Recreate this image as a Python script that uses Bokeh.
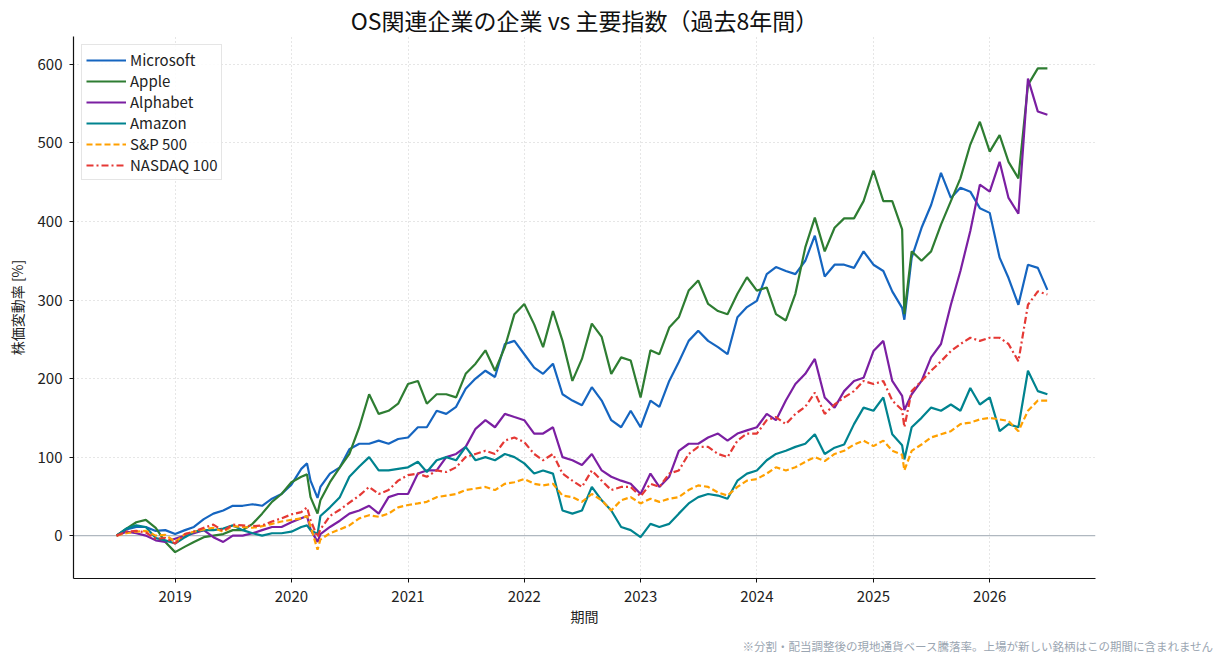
import pandas as pd
from bokeh.plotting import figure
from bokeh.models import Range1d, FixedTicker, DatetimeTickFormatter, Span, Title
from bokeh.embed import file_html
from bokeh.resources import INLINE

FONT = "Noto Sans CJK JP"

# ---- data (percent change since start) ----
# monthly points (1st of each month, 2018-07 .. 2026-07) plus three extra days
base_months = pd.date_range("2018-07-01", "2026-07-01", freq="MS")
extra_days = pd.to_datetime(["2020-02-19", "2020-03-23", "2025-04-08"])
dates = base_months.append(extra_days).sort_values()

microsoft = [
    0, 8, 11, 11, 6, 7,
    2, 7, 11, 21, 28, 32, 38, 38, 40, 38, 47, 53,
    65, 85, 92, 70, 48, 62, 79, 87, 110, 117, 117, 121, 117, 123,
    125, 138, 138, 159, 155, 164, 187, 200, 210, 202, 244, 248,
    231, 214, 206, 219, 180, 172, 166, 189, 172, 147, 138, 159,
    138, 172, 164, 197, 221, 248, 261, 248, 240, 231, 278, 291,
    299, 333, 342, 337, 333, 350, 382, 330, 345, 345, 341, 362,
    345, 337, 311, 290, 275, 354, 392, 421, 462, 430, 443, 438, 417,
    411, 354, 328, 294, 345, 341, 313,
]
apple = [
    0, 9, 17, 20, 10, -8,
    -21, -14, -8, -2, 0, 2, 7, 7, 15, 28, 43, 53,
    68, 75, 78, 49, 28, 45, 68, 87, 104, 138, 180, 155, 159, 168,
    193, 197, 168, 180, 180, 176, 206, 219, 236, 210, 240, 282,
    295, 269, 240, 286, 248, 197, 225, 270, 253, 206, 227, 223,
    176, 236, 231, 265, 278, 312, 325, 295, 286, 282, 308, 329,
    312, 316, 282, 274, 308, 367, 405, 362, 392, 404, 404, 426,
    465, 426, 426, 390, 282, 362, 350, 362, 396, 426, 455, 498, 527,
    489, 510, 476, 455, 574, 595, 595,
]
alphabet = [
    0, 5, 3, 0, -6, -8,
    -4, 0, 3, 7, -2, -8, 0, 0, 3, 7, 11, 11,
    17, 22, 25, 8, -8, 2, 11, 19, 28, 32, 38, 28, 49, 53,
    53, 79, 83, 83, 100, 104, 113, 136, 147, 138, 155, 151,
    147, 130, 130, 138, 100, 96, 90, 104, 83, 75, 70, 66,
    53, 79, 62, 75, 108, 117, 117, 125, 130, 121, 130, 134,
    138, 155, 147, 172, 193, 206, 225, 176, 163, 184, 197, 201,
    235, 248, 197, 178, 160, 180, 197, 227, 244, 294, 337, 388, 447,
    438, 476, 430, 410, 582, 540, 536,
]
amazon = [
    0, 9, 13, 11, -3, -6,
    -10, -2, 5, 7, 7, 9, 13, 7, 3, 0, 3, 3,
    5, 11, 13, 7, 2, 25, 36, 49, 75, 88, 100, 83, 83, 85,
    87, 94, 81, 96, 100, 96, 113, 96, 100, 96, 104, 100,
    92, 79, 83, 79, 32, 28, 32, 62, 45, 32, 11, 7,
    -2, 15, 11, 15, 28, 41, 49, 53, 51, 47, 70, 79,
    83, 96, 104, 108, 113, 117, 129, 104, 112, 116, 142, 163,
    159, 176, 129, 115, 97, 138, 150, 163, 159, 167, 159, 188, 167,
    176, 133, 142, 138, 210, 184, 180,
]
sp500 = [
    0, 3, 5, 6, 0, 1,
    -8, 2, 5, 8, 10, 5, 12, 11, 10, 12, 15, 18,
    20, 22, 25, 12, -18, -5, 3, 8, 13, 22, 26, 24, 28, 36,
    39, 41, 43, 49, 51, 53, 58, 60, 62, 58, 66, 68,
    72, 66, 64, 66, 51, 49, 43, 53, 45, 32, 45, 49,
    41, 47, 43, 47, 49, 58, 64, 62, 55, 51, 62, 70,
    72, 79, 87, 83, 87, 94, 100, 95, 104, 108, 116, 121,
    114, 121, 108, 103, 83, 108, 116, 125, 129, 133, 142, 144, 148,
    150, 148, 146, 133, 159, 172, 172,
]
nasdaq100 = [
    0, 5, 6, 4, -4, -3,
    -10, 2, 5, 10, 14, 6, 14, 13, 12, 13, 18, 22,
    27, 30, 36, 20, -2, 8, 25, 33, 42, 51, 62, 53, 58, 70,
    77, 79, 75, 83, 81, 87, 100, 104, 108, 104, 121, 125,
    119, 104, 96, 104, 79, 70, 62, 83, 70, 58, 62, 62,
    50, 66, 62, 79, 83, 104, 113, 113, 104, 100, 121, 130,
    130, 147, 151, 142, 155, 164, 182, 155, 167, 176, 184, 197,
    193, 197, 172, 160, 138, 184, 197, 210, 222, 235, 244, 252, 248,
    252, 252, 244, 222, 294, 311, 307,
]

series_names = ["Microsoft", "Apple", "Alphabet", "Amazon", "S&P 500", "NASDAQ 100"]
series_values = [microsoft, apple, alphabet, amazon, sp500, nasdaq100]
series_colors = ["#1565C0", "#2E7D32", "#7B1FA2", "#00838F", "#FFA000", "#E53935"]
series_dashes = ["solid", "solid", "solid", "solid", "6 3", "7 3 2 3"]

year_ticks = [2019, 2020, 2021, 2022, 2023, 2024, 2025, 2026]
y_ticks = [0, 100, 200, 300, 400, 500, 600]

title_text = "OS関連企業の企業 vs 主要指数（過去8年間）"
x_label = "期間"
y_label = "株価変動率 [%]"
footnote = "※分割・配当調整後の現地通貨ベース騰落率。上場が新しい銘柄はこの期間に含まれません"

# ---- figure ----
p = figure(
    width=1224, height=666,
    x_axis_type="datetime",
    x_range=Range1d(pd.Timestamp("2018-02-16"), pd.Timestamp("2026-11-29")),
    y_range=Range1d(-54.6, 635.6),
    output_backend="svg", toolbar_location=None,
    min_border_left=73, min_border_right=129, min_border_top=35, min_border_bottom=88,
    title=title_text,
)
p.outline_line_color = None
p.background_fill_color = "white"
p.border_fill_color = "white"

p.title.align = "center"
p.title.text_font = FONT
p.title.text_font_size = "23px"
p.title.text_font_style = "normal"
p.title.text_color = "#111111"
p.title.standoff = 0

zero = Span(location=0, dimension="width", line_color="#b0b8c0", line_width=1.3, level="underlay")
p.add_layout(zero)

for name, vals, col, dash in zip(series_names, series_values, series_colors, series_dashes):
    p.line(dates, vals, line_color=col, line_width=2.2, line_dash=dash, legend_label=name)

# axes
p.xaxis.ticker = FixedTicker(ticks=[pd.Timestamp(f"{y}-01-01").value / 1e6 for y in year_ticks])
p.xaxis.formatter = DatetimeTickFormatter(years="%Y", months="%Y", days="%Y", hours="%Y",
                                          minutes="%Y", seconds="%Y", milliseconds="%Y")
p.yaxis.ticker = FixedTicker(ticks=y_ticks)
p.xaxis.axis_label = x_label
p.yaxis.axis_label = y_label

for ax in (p.xaxis, p.yaxis):
    ax.axis_line_color = "#111111"
    ax.axis_line_width = 1.2
    ax.major_tick_line_color = "#111111"
    ax.major_tick_out = 4
    ax.major_tick_in = 0
    ax.minor_tick_out = 0
    ax.minor_tick_in = 0
    ax.major_label_text_font = FONT
    ax.major_label_text_font_size = "15px"
    ax.major_label_text_color = "#222222"
    ax.axis_label_text_font = FONT
    ax.axis_label_text_font_size = "14px"
    ax.axis_label_text_font_style = "normal"
    ax.axis_label_text_color = "#222222"
p.yaxis.major_label_standoff = 7
p.yaxis.axis_label_standoff = 8
p.xaxis.major_label_standoff = 8
p.xaxis.axis_label_standoff = 1

for g in (p.xgrid, p.ygrid):
    g.grid_line_color = "#cccccc"
    g.grid_line_dash = "1 3"
    g.grid_line_width = 1

# legend
lg = p.legend[0]
lg.location = "top_left"
lg.label_text_font = FONT
lg.label_text_font_size = "15px"
lg.label_text_color = "#222222"
lg.glyph_width = 40
lg.glyph_height = 20
lg.label_height = 20
lg.spacing = 0
lg.padding = 4
lg.margin = 8
lg.label_standoff = 4
lg.border_line_color = "#cccccc"
lg.border_line_width = 1
lg.background_fill_alpha = 0.85

note = Title(text=footnote, align="left", offset=669, standoff=14, text_font=FONT,
             text_font_size="11.5px", text_font_style="normal", text_color="#9aa5b1")
p.add_layout(note, "below")

open("out.html", "w").write(file_html(p, INLINE))
